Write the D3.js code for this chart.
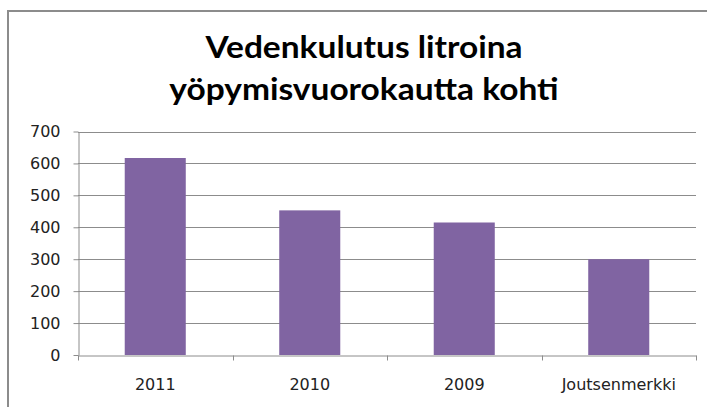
<!DOCTYPE html>
<html>
<head>
<meta charset="utf-8">
<script src="https://cdn.jsdelivr.net/npm/d3@7"></script>
<style>
  body { margin: 0; background: #fff; }
  svg { display: block; }
</style>
</head>
<body>
<div id="chart"></div>
<script>
const categories = ['2011', '2010', '2009', 'Joutsenmerkki'];
const values = [617, 453, 415, 300];
const yTicks = [0, 100, 200, 300, 400, 500, 600, 700];
const titleLines = ['Vedenkulutus litroina', 'yöpymisvuorokautta kohti'];

const width = 707, height = 407;
const margin = { left: 78, right: 11, top: 131.5, bottom: 52 };

const $svg = d3.select('#chart').append('svg')
	.attr('width', width)
	.attr('height', height);

// chart frame (runs off the right and bottom edge)
$svg.append('rect')
	.attr('x', 8).attr('y', 11)
	.attr('width', 720).attr('height', 420)
	.attr('fill', '#fff')
	.attr('stroke', '#8c8c8c')
	.attr('stroke-width', 2);

const x = d3.scaleBand()
	.domain(categories)
	.range([margin.left, width - margin.right]);

const y = d3.scaleLinear()
	.domain([0, 700])
	.range([height - margin.bottom, margin.top]);

// gridlines
$svg.append('g')
	.selectAll('line')
	.data(yTicks.slice(1))
	.enter()
	.append('line')
	.attr('x1', margin.left)
	.attr('x2', width - margin.right)
	.attr('y1', d => Math.round(y(d)) + 0.5)
	.attr('y2', d => Math.round(y(d)) + 0.5)
	.attr('stroke', '#8c8c8c')
	.attr('stroke-width', 1);

// bars
const barW = x.bandwidth() * 0.395;
$svg.append('g')
	.selectAll('rect')
	.data(values)
	.enter()
	.append('rect')
	.attr('x', (d, i) => x(categories[i]) + (x.bandwidth() - barW) / 2)
	.attr('y', d => y(d))
	.attr('width', barW)
	.attr('height', d => y(0) - y(d))
	.attr('fill', '#8064a2');

// y axis
const yAxis = $svg.append('g')
	.attr('transform', `translate(${margin.left + 0.5},0)`)
	.call(d3.axisLeft(y).tickValues(yTicks).tickSize(5).tickPadding(13).tickSizeOuter(0));

// x axis
const xAxis = $svg.append('g')
	.attr('transform', `translate(0,${Math.round(y(0)) + 0.5})`)
	.call(d3.axisBottom(x).tickSize(0).tickPadding(23));

// category boundary ticks
xAxis.selectAll('.sep')
	.data(d3.range(categories.length + 1))
	.enter()
	.append('line')
	.attr('class', 'sep')
	.attr('x1', i => Math.round(margin.left + i * x.step()) + 0.5)
	.attr('x2', i => Math.round(margin.left + i * x.step()) + 0.5)
	.attr('y1', 0)
	.attr('y2', 5)
	.attr('stroke', '#8c8c8c');

[yAxis, xAxis].forEach(($a) => {
	$a.select('.domain').attr('stroke', '#8c8c8c');
	$a.selectAll('.tick line').attr('stroke', '#8c8c8c');
	$a.selectAll('text')
		.attr('fill', '#222')
		.style('font-family', '"DejaVu Sans", sans-serif')
		.style('font-size', '16px');
});

// title, slightly widened like the original
$svg.append('g')
	.attr('transform', 'translate(364,0) scale(1.08,1)')
	.selectAll('text')
	.data(titleLines)
	.enter()
	.append('text')
	.attr('x', 0)
	.attr('y', (d, i) => 58 + i * 42)
	.attr('text-anchor', 'middle')
	.style('font-family', 'Lato, sans-serif')
	.style('font-weight', 'bold')
	.style('font-size', '31px')
	.attr('fill', '#000')
	.text(d => d);
</script>
</body>
</html>
